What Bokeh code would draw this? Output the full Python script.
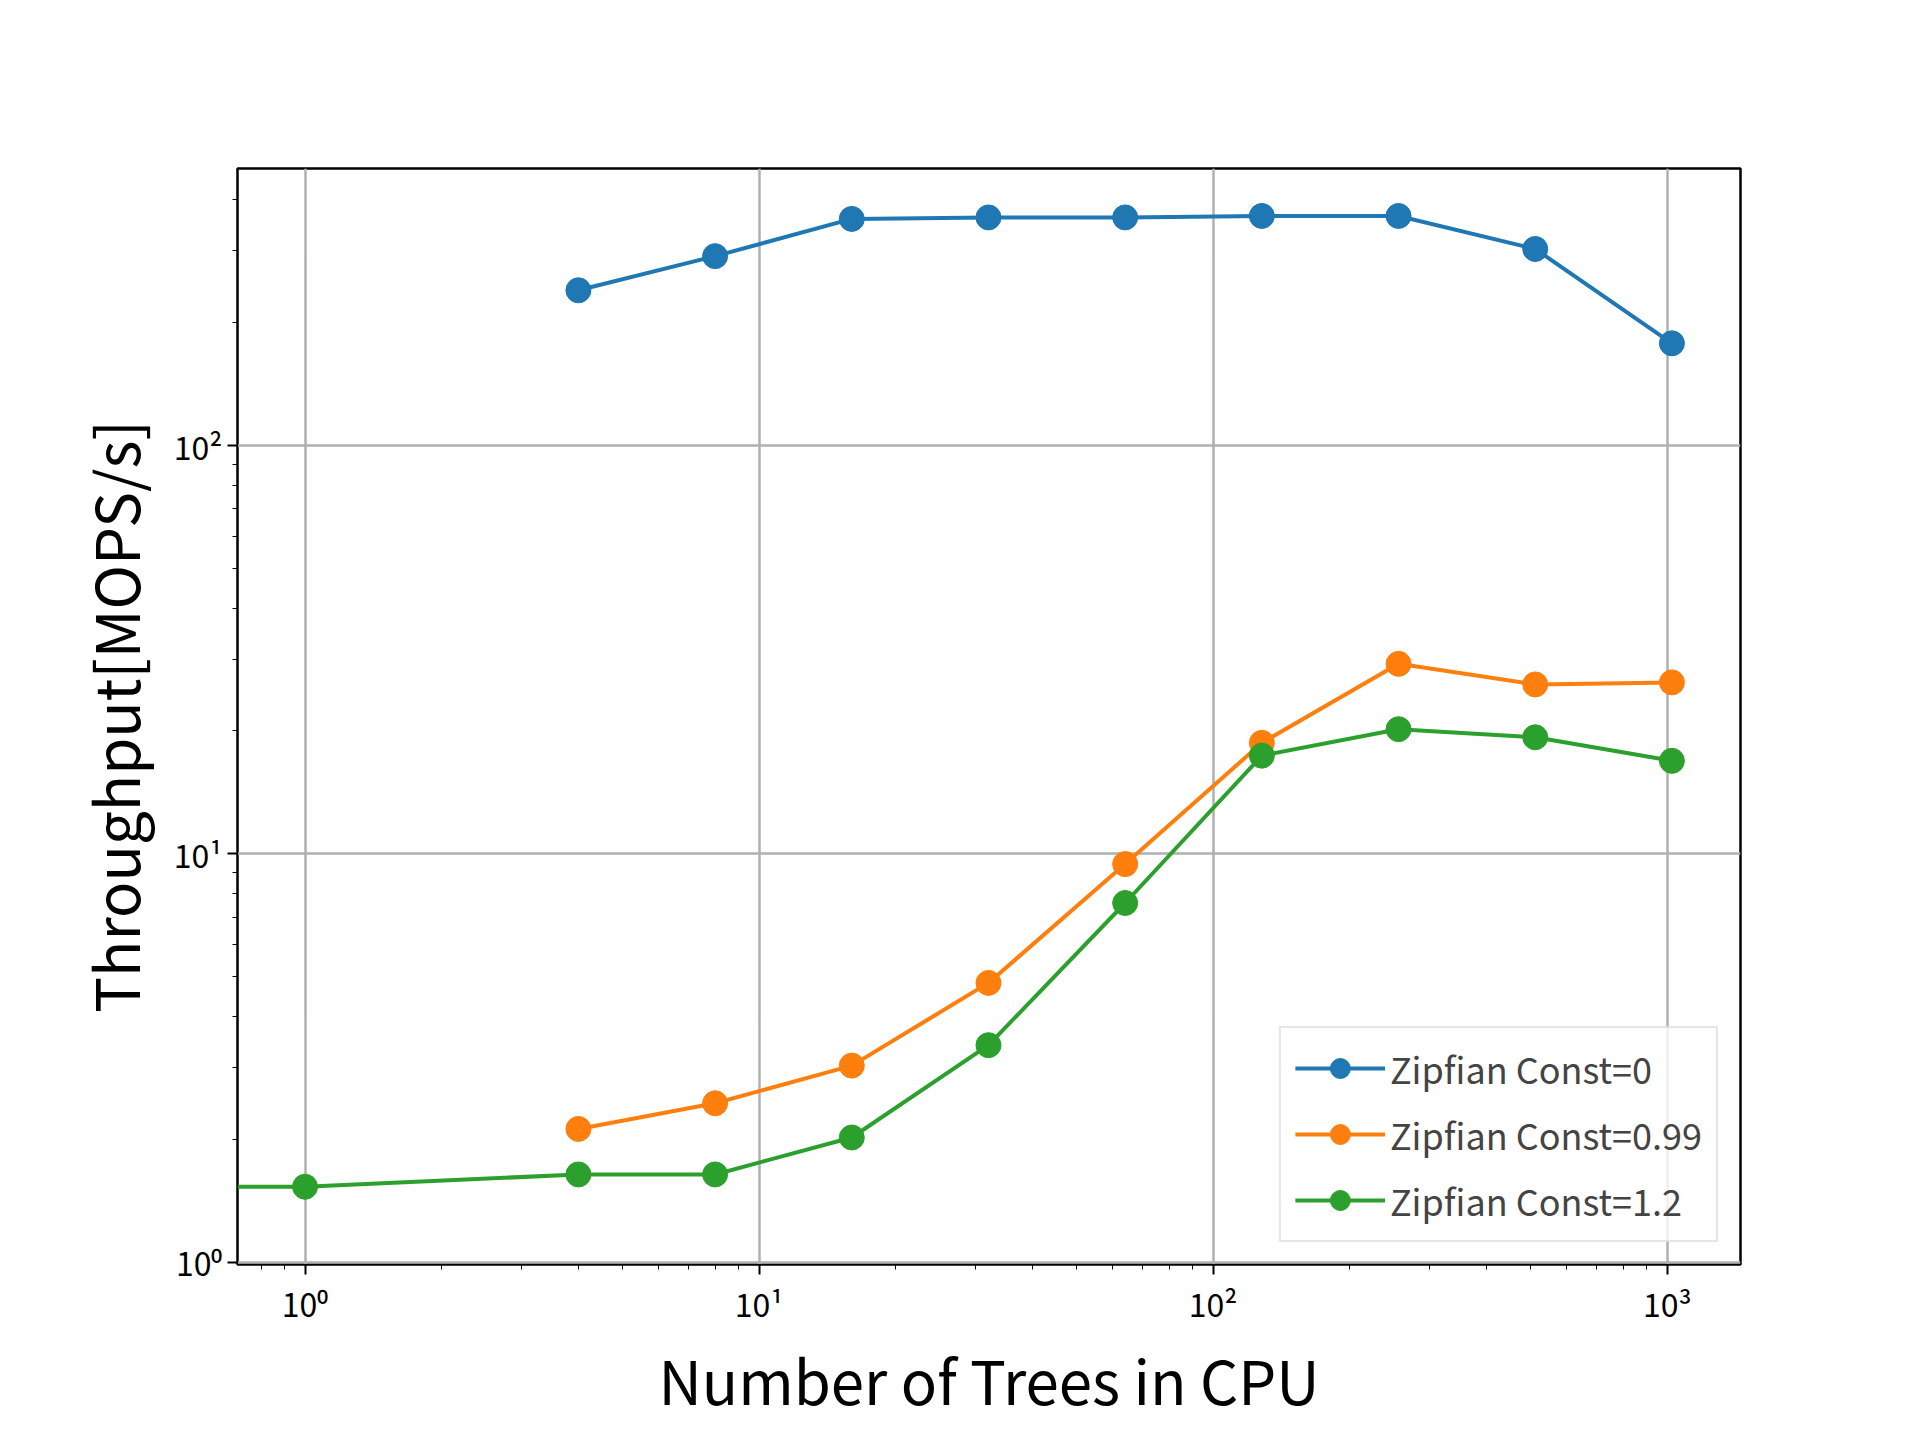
from bokeh.plotting import figure
from bokeh.models import CustomJSTickFormatter, Legend, LegendItem, FixedTicker
from bokeh.embed import file_html
from bokeh.resources import INLINE

FONT = "Noto Sans CJK JP"

x_blue = [4, 8, 16, 32, 64, 128, 256, 512, 1024]
y_blue = [240, 291, 359, 362, 362, 365, 365, 303, 178]
x_orange = [4, 8, 16, 32, 64, 128, 256, 512, 1024]
y_orange = [2.12, 2.45, 3.03, 4.83, 9.44, 18.7, 29.2, 26.0, 26.3]
x_green = [0.5, 1, 4, 8, 16, 32, 64, 128, 256, 512, 1024]
y_green = [1.53, 1.53, 1.64, 1.64, 2.02, 3.40, 7.58, 17.4, 20.2, 19.3, 16.9]
labels = ["Zipfian Const=0", "Zipfian Const=0.99", "Zipfian Const=1.2"]
colors = ["#1f77b4", "#ff7f0e", "#2ca02c"]

p = figure(width=1904, height=1424, x_axis_type="log", y_axis_type="log",
           x_range=(0.71, 1450), y_range=(0.987, 477),
           output_backend="svg", toolbar_location=None,
           min_border_left=237, min_border_right=164,
           min_border_top=168, min_border_bottom=148)

sup = CustomJSTickFormatter(code="""
const s = {'0':'⁰','1':'¹','2':'²','3':'³','-':'⁻'};
const e = Math.round(Math.log10(tick));
return '10' + String(e).split('').map(c => s[c]).join('');
""")
for ax in (p.xaxis, p.yaxis):
    ax.formatter = sup
    ax.major_label_text_font = FONT
    ax.major_label_text_font_size = "32px"
    ax.major_label_text_color = "black"
    ax.axis_line_color = "black"
    ax.major_tick_line_color = "black"
    ax.minor_tick_line_color = "black"
    ax.major_tick_line_width = 2
    ax.major_tick_out = 10
    ax.minor_tick_out = 5
    ax.major_tick_in = 0
    ax.minor_tick_in = 0
    ax.axis_label_text_font = FONT
    ax.axis_label_text_font_style = "normal"
    ax.axis_label_text_font_size = "60px"
    ax.axis_label_text_color = "black"
p.xaxis.ticker = FixedTicker(ticks=[1, 10, 100, 1000],
                             minor_ticks=[m * 10 ** e for e in range(-1, 4) for m in range(2, 10)])
p.yaxis.ticker = FixedTicker(ticks=[1, 10, 100],
                             minor_ticks=[m * 10 ** e for e in range(0, 3) for m in range(2, 10)])
p.xaxis.axis_label = "Number of Trees in CPU"
p.yaxis.axis_label = "Throughput[MOPS/s]"
p.xaxis.axis_label_standoff = 6
p.yaxis.axis_label_standoff = 14

p.xgrid.grid_line_color = "#b0b0b0"
p.ygrid.grid_line_color = "#b0b0b0"
p.xgrid.grid_line_width = 2.5
p.ygrid.grid_line_width = 2.5
p.outline_line_color = "black"
p.outline_line_width = 2.5

items = []
for xs, ys, c, lab in [(x_blue, y_blue, colors[0], labels[0]),
                       (x_orange, y_orange, colors[1], labels[1]),
                       (x_green, y_green, colors[2], labels[2])]:
    l = p.line(xs, ys, line_color=c, line_width=4)
    s = p.scatter(xs, ys, size=25, fill_color=c, line_color=c)
    items.append(LegendItem(label=lab, renderers=[l, s]))

leg = Legend(items=items, location="bottom_right",
             label_text_font=FONT, label_text_font_size="36px",
             glyph_width=90, glyph_height=50, spacing=14,
             padding=14, margin=22,
             border_line_color="#cccccc", border_line_width=2.5,
             background_fill_alpha=0.8)
p.add_layout(leg)

open("out.html", "w").write(file_html(p, INLINE))
